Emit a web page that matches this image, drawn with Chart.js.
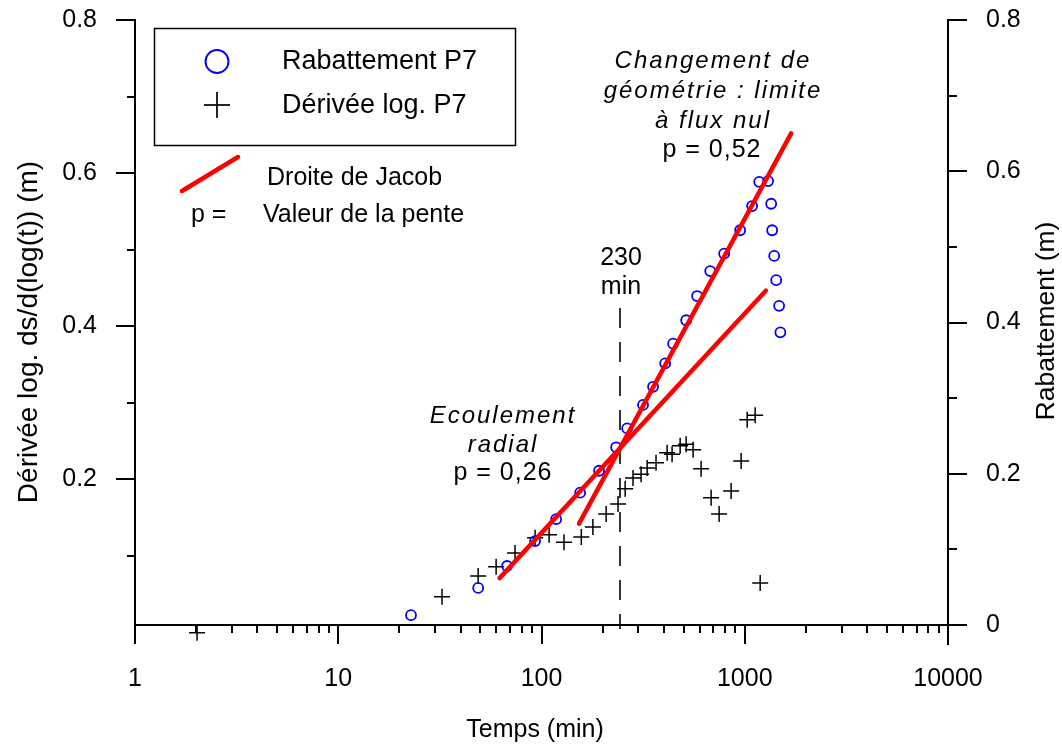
<!DOCTYPE html>
<html><head><meta charset="utf-8">
<script src="https://cdn.jsdelivr.net/npm/chart.js@4/dist/chart.umd.min.js"></script>
<style>html,body{margin:0;padding:0;background:#fff}#wrap{width:1062px;height:745px;position:relative}</style>
</head><body><div id="wrap"><canvas id="c"></canvas></div>
<script>
// ---- data ----
const rabTimes = [22.8, 48.8, 67.7, 93, 118, 155, 192, 233, 264, 316, 354, 406, 444, 515, 583, 676, 792, 949, 1087, 1178, 1303, 1349, 1364, 1396, 1428, 1476, 1497];
const rabValues = [0.013, 0.049, 0.078, 0.111, 0.140, 0.175, 0.204, 0.235, 0.260, 0.291, 0.315, 0.346, 0.372, 0.403, 0.435, 0.468, 0.491, 0.522, 0.554, 0.586, 0.587, 0.557, 0.522, 0.488, 0.456, 0.422, 0.387];
const derTimes = [2.02, 32.4, 48.8, 59.8, 74.1, 93, 109, 129, 157, 179, 208, 238, 258, 282, 309, 331, 366, 415, 439, 481, 515, 557, 610, 683, 748, 857, 960, 1028, 1125, 1191];
const derValues = [0.0, 0.047, 0.074, 0.086, 0.104, 0.124, 0.128, 0.118, 0.125, 0.138, 0.155, 0.168, 0.188, 0.202, 0.207, 0.215, 0.222, 0.235, 0.233, 0.244, 0.246, 0.239, 0.214, 0.176, 0.155, 0.185, 0.224, 0.278, 0.284, 0.065];
const jacobRadialTimes = [62.2, 1270];
const jacobRadialValues = [0.062, 0.442];
const jacobBoundaryTimes = [153, 1692];
const jacobBoundaryValues = [0.134, 0.650];
const xTicks = [1, 10, 100, 1000, 10000];
const xTickLabels = ['1', '10', '100', '1000', '10000'];
const leftTicks = [0.2, 0.4, 0.6, 0.8];
const leftTickLabels = ['0.2', '0.4', '0.6', '0.8'];
const rightTicks = [0, 0.2, 0.4, 0.6, 0.8];
const rightTickLabels = ['0', '0.2', '0.4', '0.6', '0.8'];
const breakLineTime = 243;
const labels = {
  xTitle: 'Temps (min)',
  yLeftTitle: 'Dérivée log. ds/d(log(t)) (m)',
  yRightTitle: 'Rabattement (m)',
  legendRab: 'Rabattement P7',
  legendDer: 'Dérivée log. P7',
  legendJacob: 'Droite de Jacob',
  legendP: 'p =',
  legendPval: 'Valeur de la pente',
  breakLine: ['230', 'min'],
  radial: ['Ecoulement', 'radial'],
  radialP: 'p = 0,26',
  boundary: ['Changement de', 'géométrie : limite', 'à flux nul'],
  boundaryP: 'p = 0,52'
};

const FONT = '"Liberation Sans", Arial, Helvetica, sans-serif';
Chart.defaults.font.family = FONT;
Chart.defaults.color = '#000';

const pts = (xs, ys) => xs.map((t, i) => ({x: t, y: ys[i]}));

const axesPlugin = {
  id: 'axesDraw',
  beforeDatasetsDraw(chart) {
    const {ctx, chartArea: ca, scales} = chart;
    const px = Math.round(scales.x.getPixelForValue(breakLineTime));
    ctx.save();
    ctx.strokeStyle = '#000'; ctx.lineWidth = 1.6;
    ctx.setLineDash([20, 14]);
    ctx.beginPath(); ctx.moveTo(px, 308); ctx.lineTo(px, ca.bottom + 4); ctx.stroke();
    ctx.restore();
  },
  afterDraw(chart) {
    const {ctx, chartArea: ca, scales} = chart;
    const xs = scales.x, yl = scales.y, yr = scales.y2;
    ctx.save();
    ctx.strokeStyle = '#000'; ctx.lineWidth = 2; ctx.lineCap = 'butt';
    const line = (x1, y1, x2, y2) => { ctx.beginPath(); ctx.moveTo(x1, y1); ctx.lineTo(x2, y2); ctx.stroke(); };
    const L = Math.round(ca.left), R = Math.round(ca.right), B = Math.round(ca.bottom), T = Math.round(ca.top);
    // x axis
    line(L - 1, B, R + 1, B);
    for (let d = 0; d < 4; d++) for (let m = 1; m <= 9; m++) {
      const p = Math.round(xs.getPixelForValue(Math.pow(10, d) * m));
      line(p, B, p, B + (m === 1 ? 19 : 8));
    }
    // left axis
    line(L, T - 1, L, B + 18);
    for (let k = 1; k <= 8; k++) {
      const p = Math.round(yl.getPixelForValue(k / 10));
      line(L - (k % 2 === 0 ? 19 : 8), p, L, p);
    }
    // right axis
    line(R, T - 1, R, B + 20);
    for (let k = 0; k <= 8; k++) {
      const p = Math.round(yr.getPixelForValue(k / 10));
      line(R, p, R + (k % 2 === 0 ? 19 : 9), p);
    }
    // axis titles
    ctx.fillStyle = '#000';
    ctx.textAlign = 'center'; ctx.textBaseline = 'alphabetic';
    ctx.font = '25px ' + FONT;
    ctx.fillText(labels.xTitle, 535, 737);
    ctx.save(); ctx.translate(37, 332); ctx.rotate(-Math.PI / 2);
    ctx.font = '28px ' + FONT; ctx.fillText(labels.yLeftTitle, 0, 0); ctx.restore();
    ctx.save(); ctx.translate(1054, 321); ctx.rotate(-Math.PI / 2);
    ctx.font = '26.5px ' + FONT; ctx.fillText(labels.yRightTitle, 0, 0); ctx.restore();

    // legend box
    ctx.lineWidth = 1.5;
    ctx.strokeRect(154.5, 28.5, 361, 117);
    ctx.strokeStyle = '#0000ff'; ctx.lineWidth = 2;
    ctx.beginPath(); ctx.arc(217, 61.5, 11.5, 0, Math.PI * 2); ctx.stroke();
    ctx.strokeStyle = '#000'; ctx.lineWidth = 1.7;
    line(204, 105, 230, 105); line(217, 92, 217, 118);
    ctx.strokeStyle = '#ff0000'; ctx.lineWidth = 4.5; ctx.lineCap = 'round';
    line(182, 191, 238, 157);
    ctx.lineCap = 'butt';
    ctx.textAlign = 'left';
    ctx.font = '27px ' + FONT;
    ctx.fillText(labels.legendRab, 282, 69);
    ctx.fillText(labels.legendDer, 282, 113);
    ctx.font = '25px ' + FONT;
    ctx.fillText(labels.legendJacob, 267, 185);
    ctx.fillText(labels.legendP, 191, 222);
    ctx.fillText(labels.legendPval, 263, 222);

    // annotations
    ctx.textAlign = 'center';
    ctx.font = '25px ' + FONT;
    const bx = Math.round(xs.getPixelForValue(breakLineTime));
    ctx.fillText(labels.breakLine[0], bx + 1, 265);
    ctx.fillText(labels.breakLine[1], bx + 1, 294);
    ctx.letterSpacing = '2px';
    ctx.font = 'italic 24px ' + FONT;
    ctx.fillText(labels.radial[0], 503, 423);
    ctx.fillText(labels.radial[1], 503, 452);
    labels.boundary.forEach((s, i) => ctx.fillText(s, 713, 68 + i * 30));
    ctx.letterSpacing = '1px';
    ctx.font = '25px ' + FONT;
    ctx.fillText(labels.radialP, 503, 480);
    ctx.fillText(labels.boundaryP, 712, 157);
    ctx.letterSpacing = '0px';
    ctx.restore();
  }
};

const fitV = w => s => { s.width = w; s.paddingTop = 0; s.paddingBottom = 0; s.paddingLeft = 0; s.paddingRight = 0; };

new Chart(document.getElementById('c'), {
  type: 'scatter',
  data: {
    datasets: [
      {label: 'Droite de Jacob (radial)', type: 'line', data: pts(jacobRadialTimes, jacobRadialValues), yAxisID: 'y2',
       borderColor: '#ff0000', borderWidth: 4.5, pointRadius: 0, fill: false, order: 0, borderCapStyle: 'round'},
      {label: 'Droite de Jacob (limite)', type: 'line', data: pts(jacobBoundaryTimes, jacobBoundaryValues), yAxisID: 'y2',
       borderColor: '#ff0000', borderWidth: 4.5, pointRadius: 0, fill: false, order: 0, borderCapStyle: 'round'},
      {label: labels.legendRab, data: pts(rabTimes, rabValues), yAxisID: 'y2', pointStyle: 'circle',
       pointRadius: 5, borderColor: '#0000ff', backgroundColor: 'rgba(0,0,0,0)', borderWidth: 1.8, order: 1},
      {label: labels.legendDer, data: pts(derTimes, derValues), yAxisID: 'y', pointStyle: 'cross',
       pointRadius: 8, borderColor: '#000', backgroundColor: '#000', borderWidth: 1.5, order: 2, clip: false}
    ]
  },
  options: {
    responsive: true, maintainAspectRatio: false, animation: false, events: [],
    layout: {padding: {top: 20, left: 0, right: 0, bottom: 0}},
    plugins: {legend: {display: false}, tooltip: {enabled: false}},
    scales: {
      x: {
        type: 'logarithmic', min: 1, max: 10000, position: 'bottom',
        grid: {display: false, drawTicks: false}, border: {display: false},
        ticks: {font: {size: 25}, color: '#000', padding: 39, autoSkip: false, maxRotation: 0, minRotation: 0,
                callback: (v, i) => xTickLabels[i]},
        afterBuildTicks: s => { s.ticks = xTicks.map(v => ({value: v})); },
        afterFit: s => { s.height = 120; s.paddingTop = 0; s.paddingBottom = 0; s.paddingLeft = 0; s.paddingRight = 0; }
      },
      y: {
        type: 'linear', min: 0.01, max: 0.8, position: 'left',
        grid: {display: false, drawTicks: false}, border: {display: false},
        ticks: {font: {size: 25}, color: '#000', padding: 38, callback: (v, i) => leftTickLabels[i]},
        afterBuildTicks: s => { s.ticks = leftTicks.map(v => ({value: v})); },
        afterFit: fitV(135)
      },
      y2: {
        type: 'linear', min: 0, max: 0.8, position: 'right',
        grid: {display: false, drawTicks: false}, border: {display: false},
        ticks: {font: {size: 25}, color: '#000', padding: 38, callback: (v, i) => rightTickLabels[i]},
        afterBuildTicks: s => { s.ticks = rightTicks.map(v => ({value: v})); },
        afterFit: fitV(114)
      }
    }
  },
  plugins: [axesPlugin]
});
</script>
</body></html>
